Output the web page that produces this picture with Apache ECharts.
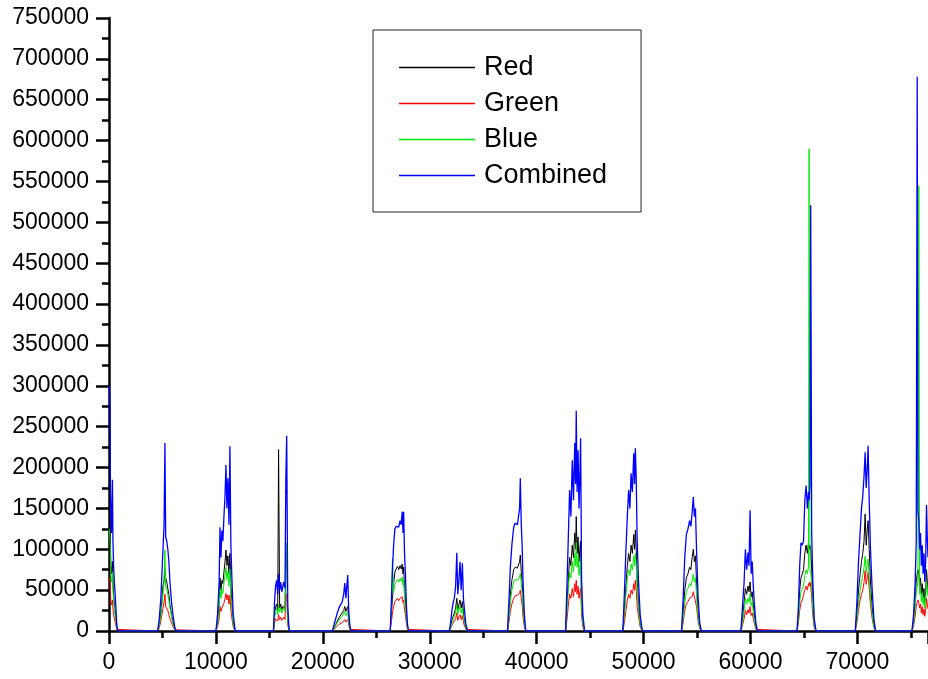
<!DOCTYPE html>
<html>
<head>
<meta charset="utf-8">
<title>RGB histogram</title>
<script src="https://cdn.jsdelivr.net/npm/echarts@6/dist/echarts.min.js"></script>
<style>
  html, body { margin: 0; padding: 0; background: #fff; }
  #main { width: 928px; height: 679px; }
</style>
</head>
<body>
<div id="main"></div>
<script>
// x positions shared by all four channels, one line per burst
var xs = [
  0, 60, 100, 140, 180, 230, 280, 320, 370, 430, 500, 570, 640, 720, 820,
  4550, 4700, 4850, 4950, 5050, 5150, 5230, 5300, 5400, 5500, 5600, 5700, 5850, 6000, 6150, 6260,
  10000, 10150, 10300, 10380, 10470, 10560, 10650, 10750, 10850, 10940, 11030, 11120, 11220, 11310, 11400, 11500, 11620, 11800,
  15380, 15480, 15580, 15680, 15780, 15860, 15960, 16060, 16160, 16260, 16360, 16460, 16540, 16620, 16720, 16850,
  20900, 21050, 21200, 21350, 21500, 21650, 21800, 21950, 22050, 22150, 22250, 22330, 22420, 22520, 22620,
  26300, 26420, 26510, 26620, 26740, 26860, 26980, 27100, 27220, 27330, 27420, 27500, 27560, 27640, 27720, 27820, 27920, 28020,
  31830, 31950, 32070, 32190, 32300, 32420, 32530, 32620, 32720, 32830, 32940, 33050, 33150, 33250, 33380, 33540,
  37270, 37400, 37540, 37680, 37850, 37980, 38100, 38200, 38310, 38400, 38470, 38560, 38640, 38720, 38850, 38980,
  42700, 42820, 42950, 43080, 43200, 43330, 43440, 43560, 43640, 43700, 43780, 43870, 43960, 44040, 44110, 44200, 44320, 44480,
  48060, 48200, 48350, 48480, 48600, 48720, 48830, 48950, 49080, 49160, 49230, 49310, 49400, 49520, 49680, 49880,
  53550, 53700, 53850, 54000, 54150, 54300, 54420, 54540, 54650, 54750, 54850, 54950, 55100, 55250, 55400,
  59100, 59250, 59400, 59520, 59640, 59760, 59860, 59960, 60060, 60160, 60260, 60380, 60500, 60650,
  64350, 64480, 64600, 64720, 64840, 64960, 65080, 65200, 65320, 65420, 65480, 65560, 65630, 65720, 65830, 65960, 66130,
  69800, 69950, 70100, 70250, 70380, 70500, 70620, 70720, 70820, 70920, 71000, 71100, 71220, 71380, 71540, 71700,
  75100, 75250, 75400, 75500, 75590, 75660, 75740, 75820, 75900, 75980, 76060, 76140, 76220, 76300, 76380, 76460, 76540, 76600
];

var redVals = [
  150000, 145000, 130000, 100000, 80000, 70000, 75000, 85000, 60000, 45000, 33000, 25000, 16000, 5000, 0,
  0, 8000, 22000, 38000, 55000, 62000, 75000, 65000, 60000, 52000, 45000, 32000, 20000, 10000, 3000, 0,
  0, 10000, 32000, 65000, 50000, 62000, 58000, 72000, 85000, 99000, 80000, 92000, 70000, 95000, 55000, 32000, 10000, 0,
  0, 18000, 30000, 33000, 25000, 222000, 28000, 33000, 26000, 30000, 32000, 28000, 85000, 100000, 15000, 0,
  0, 4000, 8000, 12000, 16000, 18000, 22000, 25000, 30000, 24000, 22000, 30000, 14000, 4000, 0,
  0, 22000, 40000, 58000, 72000, 76000, 79000, 75000, 80000, 76000, 82000, 70000, 78000, 52000, 40000, 17000, 4000, 0,
  0, 5000, 13000, 18000, 22000, 28000, 40000, 26000, 32000, 38000, 28000, 36000, 22000, 12000, 4000, 0,
  0, 18000, 45000, 62000, 75000, 78000, 80000, 77000, 76000, 85000, 93000, 72000, 60000, 35000, 10000, 0,
  0, 28000, 60000, 90000, 80000, 105000, 90000, 120000, 100000, 140000, 95000, 115000, 85000, 100000, 110000, 35000, 10000, 0,
  0, 25000, 55000, 80000, 95000, 85000, 105000, 95000, 118000, 100000, 123500, 100000, 62000, 35000, 10000, 0,
  0, 22000, 50000, 65000, 70000, 78000, 75000, 90000, 100000, 85000, 92000, 60000, 22000, 5000, 0,
  0, 15000, 35000, 52000, 45000, 55000, 48000, 60000, 42000, 48000, 32000, 17000, 5000, 0,
  0, 20000, 50000, 65000, 70000, 75000, 95000, 105000, 95000, 108000, 100000, 105000, 100000, 75000, 35000, 8000, 0,
  0, 20000, 50000, 70000, 85000, 95000, 110000, 143000, 105000, 125000, 135000, 100000, 60000, 28000, 8000, 0,
  0, 12000, 35000, 60000, 70000, 75000, 70000, 55000, 65000, 45000, 58000, 40000, 52000, 35000, 48000, 75000, 60000, 50000
];

var greenVals = [
  65000, 62000, 55000, 45000, 36000, 32000, 34000, 38000, 27000, 20000, 15000, 11000, 7000, 2000, 0,
  0, 4000, 12000, 20000, 28000, 35000, 45000, 30000, 28000, 25000, 20000, 15000, 10000, 5000, 1500, 0,
  0, 5000, 15000, 30000, 24000, 28000, 27000, 34000, 40000, 46000, 38000, 44000, 33000, 44000, 26000, 15000, 5000, 0,
  0, 9000, 15000, 17000, 12000, 20000, 14000, 17000, 13000, 15000, 17000, 14000, 40000, 45000, 7000, 0,
  0, 2000, 4000, 6000, 8000, 9000, 10000, 12000, 14000, 11000, 10000, 14000, 7000, 2000, 0,
  0, 12000, 22000, 30000, 36000, 38000, 40000, 37000, 40000, 38000, 42000, 35000, 38000, 26000, 20000, 9000, 2000, 0,
  0, 3000, 7000, 10000, 12000, 15000, 22000, 13000, 17000, 20000, 14000, 19000, 11000, 6000, 2000, 0,
  0, 10000, 24000, 33000, 40000, 43000, 45000, 44000, 43000, 46000, 50000, 40000, 32000, 18000, 5000, 0,
  0, 12000, 30000, 45000, 40000, 52000, 42000, 58000, 48000, 62000, 45000, 55000, 40000, 48000, 52000, 18000, 5000, 0,
  0, 10000, 25000, 38000, 45000, 40000, 50000, 45000, 58000, 50000, 62000, 50000, 30000, 18000, 5000, 0,
  0, 10000, 25000, 33000, 36000, 40000, 38000, 42000, 48000, 42000, 44000, 30000, 12000, 3000, 0,
  0, 7000, 15000, 25000, 20000, 26000, 22000, 30000, 19000, 22000, 15000, 8000, 2000, 0,
  0, 10000, 25000, 35000, 38000, 40000, 50000, 55000, 50000, 58000, 55000, 60000, 55000, 40000, 18000, 4000, 0,
  0, 10000, 25000, 38000, 45000, 50000, 60000, 74000, 57000, 65000, 72000, 52000, 32000, 15000, 4000, 0,
  0, 6000, 18000, 30000, 35000, 38000, 35000, 28000, 33000, 22000, 30000, 20000, 27000, 18000, 25000, 40000, 32000, 27000
];

var blueVals = [
  125000, 120000, 110000, 85000, 68000, 60000, 64000, 72000, 50000, 38000, 28000, 21000, 14000, 4000, 0,
  0, 7000, 18000, 32000, 45000, 60000, 99000, 55000, 50000, 45000, 38000, 28000, 17000, 8000, 2500, 0,
  0, 8000, 25000, 52000, 40000, 50000, 46000, 58000, 68000, 78000, 63000, 72000, 55000, 76000, 44000, 26000, 8000, 0,
  0, 15000, 25000, 28000, 20000, 32000, 23000, 28000, 22000, 25000, 28000, 24000, 90000, 108000, 12000, 0,
  0, 3000, 7000, 10000, 13000, 15000, 18000, 20000, 24000, 19000, 18000, 23000, 11000, 3000, 0,
  0, 30000, 89000, 48000, 57000, 60000, 63000, 60000, 64000, 61000, 66000, 56000, 62000, 42000, 32000, 13000, 3000, 0,
  0, 4000, 10000, 15000, 18000, 23000, 32000, 20000, 26000, 30000, 22000, 28000, 17000, 10000, 3000, 0,
  0, 15000, 36000, 50000, 60000, 63000, 64000, 62000, 61000, 66000, 70000, 58000, 48000, 28000, 8000, 0,
  0, 22000, 48000, 72000, 65000, 85000, 72000, 95000, 80000, 108000, 78000, 92000, 68000, 80000, 88000, 28000, 8000, 0,
  0, 20000, 45000, 65000, 75000, 68000, 82000, 75000, 92000, 80000, 95000, 80000, 50000, 28000, 8000, 0,
  0, 15000, 35000, 48000, 52000, 58000, 55000, 62000, 70000, 60000, 65000, 44000, 16000, 4000, 0,
  0, 11000, 25000, 40000, 33000, 40000, 35000, 45000, 31000, 36000, 23000, 12000, 4000, 0,
  0, 14000, 35000, 48000, 50000, 55000, 68000, 75000, 70000, 78000, 590000, 75000, 72000, 55000, 25000, 6000, 0,
  0, 14000, 35000, 50000, 60000, 68000, 78000, 91500, 72000, 82000, 88000, 65000, 40000, 20000, 5000, 0,
  0, 9000, 28000, 48000, 55000, 60000, 544700, 45000, 52000, 36000, 47000, 32000, 42000, 28000, 38000, 60000, 50000, 42000
];

var combinedVals = [
  300000, 290000, 255000, 170000, 140000, 120000, 150000, 185000, 110000, 80000, 60000, 46000, 30000, 10000, 0,
  0, 15000, 40000, 70000, 100000, 130000, 230000, 115000, 110000, 100000, 85000, 60000, 35000, 18000, 5000, 0,
  0, 20000, 60000, 127000, 90000, 123000, 110000, 140000, 165000, 203000, 150000, 187000, 130000, 226000, 105000, 62000, 20000, 0,
  0, 35000, 55000, 62000, 45000, 70000, 50000, 60000, 48000, 55000, 60000, 52000, 187000, 239000, 30000, 0,
  0, 8000, 15000, 22000, 28000, 32000, 35000, 45000, 58700, 40000, 38000, 68500, 25000, 8000, 0,
  0, 40000, 75000, 105000, 125000, 128000, 130000, 127000, 135000, 130000, 146000, 120000, 146000, 95000, 71000, 30000, 8000, 0,
  0, 10000, 25000, 35000, 40000, 55000, 95800, 45000, 60000, 84800, 50000, 82800, 40000, 25000, 8000, 0,
  0, 35000, 78700, 105000, 127000, 132000, 133000, 130000, 128000, 150000, 186800, 130000, 105000, 62000, 20000, 0,
  0, 50000, 110000, 172500, 140000, 209000, 160000, 230000, 180000, 269500, 170000, 221000, 150000, 190000, 235700, 63000, 20000, 0,
  0, 45000, 100000, 140000, 172500, 150000, 193000, 170000, 217400, 180000, 223500, 187000, 110000, 62000, 20000, 0,
  0, 40000, 90000, 118000, 125000, 135000, 128000, 145000, 164000, 140000, 150000, 100000, 40000, 10000, 0,
  0, 30000, 60000, 100000, 75000, 96000, 80000, 147600, 70000, 85000, 55000, 30000, 10000, 0,
  0, 30000, 80000, 108000, 105000, 110000, 160000, 178000, 150000, 170000, 160000, 178000, 521000, 120000, 60000, 15000, 0,
  0, 35000, 85000, 120000, 150000, 165000, 190000, 218800, 175000, 200000, 226600, 160000, 100000, 50000, 15000, 0,
  0, 20000, 60000, 110000, 678000, 147000, 135000, 100000, 120000, 80000, 105000, 70000, 95000, 60000, 85000, 154000, 110000, 90000
];

var seriesNames = ['Red', 'Green', 'Blue', 'Combined'];
var seriesColors = ['#000000', '#ff0000', '#00e800', '#0000ff'];
var seriesVals = [redVals, greenVals, blueVals, combinedVals];

var FONT = '"Liberation Sans", Arial, sans-serif';

function pairs(vals) {
  return xs.map(function (x, i) { return [x, vals[i]]; });
}

// plain numbers, no thousands separator
function plain(v) {
  return String(v);
}

var chart = echarts.init(document.getElementById('main'));

var axisBlack = { color: '#000', width: 2.5 };

chart.setOption({
  animation: false,
  backgroundColor: '#fff',
  grid: { left: 109, right: 0, top: 18, bottom: 48 },
  legend: {
    orient: 'vertical',
    left: 373,
    top: 30,
    data: seriesNames,
    icon: 'rect',
    itemWidth: 76,
    itemHeight: 1.5,
    itemGap: 9,
    padding: [24, 34, 23, 26],
    borderColor: '#222',
    borderWidth: 1,
    backgroundColor: '#fff',
    textStyle: { fontSize: 27, color: '#000', fontFamily: FONT, padding: [0, 0, 0, 4] }
  },
  xAxis: {
    type: 'value',
    min: 0,
    max: 76600,
    interval: 10000,
    axisLine: { lineStyle: axisBlack },
    axisTick: { length: 13, lineStyle: axisBlack },
    minorTick: { show: true, splitNumber: 2, length: 7, lineStyle: axisBlack },
    splitLine: { show: false },
    minorSplitLine: { show: false },
    axisLabel: { fontSize: 23, color: '#000', margin: 20, fontFamily: FONT, showMaxLabel: false, formatter: plain }
  },
  yAxis: {
    type: 'value',
    min: 0,
    max: 750000,
    interval: 50000,
    axisLine: { show: true, lineStyle: axisBlack },
    axisTick: { show: true, length: 13, lineStyle: axisBlack },
    minorTick: { show: true, splitNumber: 2, length: 7, lineStyle: axisBlack },
    splitLine: { show: false },
    minorSplitLine: { show: false },
    axisLabel: { fontSize: 23, color: '#000', margin: 20, fontFamily: FONT, formatter: plain }
  },
  series: seriesNames.map(function (name, k) {
    return {
      name: name,
      type: 'line',
      symbol: 'none',
      color: seriesColors[k],
      lineStyle: { width: k === 3 ? 1.3 : 1, color: seriesColors[k] },
      data: pairs(seriesVals[k])
    };
  })
});
</script>
</body>
</html>
